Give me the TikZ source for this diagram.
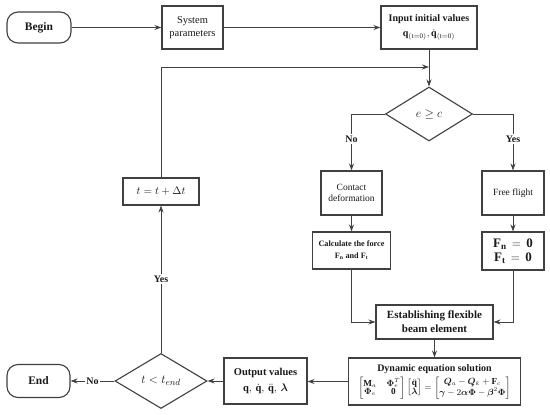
\documentclass[tikz,border=0pt]{standalone}
\usepackage{amsmath,amssymb,bm}
\usepackage{fontspec}
\setmainfont{Liberation Serif}
\usetikzlibrary{shapes.geometric,arrows.meta,calc}
\definecolor{lc}{HTML}{404040}
\definecolor{tc}{HTML}{1A1A1A}
\begin{document}
\begin{tikzpicture}[x=1pt,y=-1pt,
  arr/.style={draw=lc, line width=0.95pt, -{Stealth[length=7pt,width=5pt]}},
  box/.style={draw=lc, line width=1.1pt, rectangle, inner sep=0pt, align=center, text=tc},
  term/.style={box, rounded corners=11pt},
  dia/.style={draw=lc, line width=1.1pt, diamond, inner sep=0pt, text=tc},
  lab/.style={fill=white, inner sep=1.5pt, font=\fontsize{10}{12}\selectfont\bfseries, text=tc}]
\useasboundingbox (0,0) rectangle (550,415);
\fill[white] (0,0) rectangle (550,415);

\node[term, minimum width=64pt, minimum height=31pt, font=\fontsize{11.5}{13}\selectfont\bfseries] (begin) at (39,27.5) {Begin};
\node[box, minimum width=61pt, minimum height=43pt, font=\fontsize{10.5}{12.5}\selectfont] (sys) at (192.5,27.5) {System\\parameters};
\node[box, minimum width=96pt, minimum height=43pt, font=\fontsize{10}{15}\selectfont\bfseries] (inp) at (429,27.5) {Input initial values\\ $\mathbf{q}_{(\mathrm{t=0})},\dot{\mathbf{q}}_{(\mathrm{t=0})}$};
\node[dia, minimum width=87pt, minimum height=54pt, font=\fontsize{13}{15}\selectfont] (d1) at (429,114) {$e\geq c$};
\node[box, minimum width=61pt, minimum height=44pt, font=\fontsize{9.5}{11}\selectfont] (con) at (351.5,193) {Contact\\deformation};
\node[box, minimum width=62pt, minimum height=44pt, font=\fontsize{9.5}{11}\selectfont] (free) at (513,193) {Free flight};
\node[box, minimum width=78pt, minimum height=37pt, font=\fontsize{8.2}{12}\selectfont\bfseries] (calc) at (351.5,250.5) {Calculate the force\\ $\mathbf{F}_{\mathbf{n}}$ and $\mathbf{F}_{\mathbf{t}}$};
\node[box, minimum width=62pt, minimum height=38pt, font=\fontsize{13}{14}\selectfont] (fz) at (513,251) {$\mathbf{F}_{\mathbf{n}}\,=\,\mathbf{0}$\\$\mathbf{F}_{\mathbf{t}}\,=\,\mathbf{0}$};
\node[box, minimum width=117pt, minimum height=34pt, font=\fontsize{11}{14}\selectfont\bfseries] (est) at (434.5,322) {Establishing flexible\\beam element};
\node[box, minimum width=172pt, minimum height=47pt, font=\fontsize{10}{12}\selectfont\bfseries] (dyn) at (434.5,381.5) {Dynamic equation solution\\[2.5pt]
  {\fontsize{9.2}{10}\selectfont\renewcommand{\arraystretch}{0.8}$\left[\begin{matrix}\mathbf{M}_a & \boldsymbol{\Phi}_e^T\\ \boldsymbol{\Phi}_e & \mathbf{0}\end{matrix}\right]\left[\begin{matrix}\ddot{\mathbf{q}}\\ \boldsymbol{\lambda}\end{matrix}\right]=\left[\begin{matrix}\boldsymbol{Q}_a-\boldsymbol{Q}_k+\mathbf{F}_c\\ \boldsymbol{\gamma}-2\boldsymbol{\alpha}\dot{\boldsymbol{\Phi}}-\boldsymbol{\beta}^2\boldsymbol{\Phi}\end{matrix}\right]$}};
\node[box, minimum width=83pt, minimum height=46pt, font=\fontsize{10.5}{16}\selectfont\bfseries] (out) at (265.5,381) {Output values\\ $\mathbf{q},\,\dot{\mathbf{q}},\,\ddot{\mathbf{q}},\,\boldsymbol{\lambda}$};
\node[dia, minimum width=92pt, minimum height=55pt, font=\fontsize{13}{15}\selectfont] (d2) at (161,381) {$t<t_{end}$};
\node[term, minimum width=63pt, minimum height=33pt, font=\fontsize{11.5}{13}\selectfont\bfseries] (end) at (38.5,381) {End};
\node[box, minimum width=76pt, minimum height=27pt, font=\fontsize{11}{13}\selectfont] (tb) at (161,191.5) {$t=t+\Delta t$};
\coordinate (j) at (429,67);

\draw[arr] (begin) -- (sys);
\draw[arr] (sys) -- (inp);
\draw[arr] (inp) -- (d1);
\draw[arr] (tb.north) |- (j);
\draw[arr] (d1.west) -| node[lab, pos=0.72]{No} (con.north);
\draw[arr] (d1.east) -| node[lab, pos=0.72]{Yes} (free.north);
\draw[arr] (con) -- (calc);
\draw[arr] (free) -- (fz);
\draw[arr] (calc.south) |- (est.west);
\draw[arr] (fz.south) |- (est.east);
\draw[arr] (est.south) -- (est.south |- dyn.north);
\draw[arr] (dyn.west) -- (dyn.west -| out.east);
\draw[arr] (out.west) -- (d2.east);
\draw[arr] (d2.west) -- node[lab]{No} (end.east);
\draw[arr] (d2.north) -- node[lab]{Yes} (tb.south);
\end{tikzpicture}
\end{document}
